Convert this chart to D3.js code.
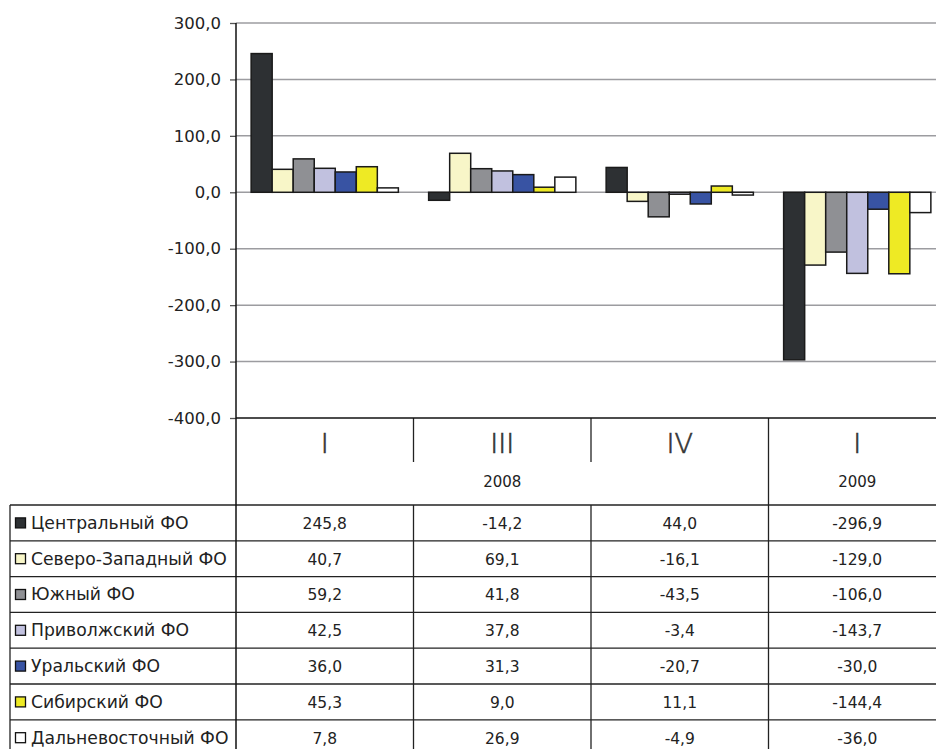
<!DOCTYPE html>
<html>
<head>
<meta charset="utf-8">
<script src="https://cdn.jsdelivr.net/npm/d3@7"></script>
<style>
  body { margin: 0; background: #fff; }
  svg { display: block; font-family: "DejaVu Sans", sans-serif; }
</style>
</head>
<body>
<div class="chart"></div>
<script>
// quarters along the x axis, years spanning them
var quarters = ["I", "III", "IV", "I"];
var years = ["2008", "2009"];
var yearSpans = [3, 1];

var regions = ["Центральный ФО", "Северо-Западный ФО", "Южный ФО", "Приволжский ФО",
               "Уральский ФО", "Сибирский ФО", "Дальневосточный ФО"];
var colors = ["#2d3033", "#f8f6c8", "#8f9094", "#c1c1df", "#3853a3", "#eeea24", "#ffffff"];

// one array per region, values by quarter
var central    = [245.8, -14.2, 44.0, -296.9];
var northwest  = [40.7, 69.1, -16.1, -129.0];
var south      = [59.2, 41.8, -43.5, -106.0];
var volga      = [42.5, 37.8, -3.4, -143.7];
var ural       = [36.0, 31.3, -20.7, -30.0];
var siberia    = [45.3, 9.0, 11.1, -144.4];
var fareast    = [7.8, 26.9, -4.9, -36.0];
var series = [central, northwest, south, volga, ural, siberia, fareast];

var yTicks = [-400, -300, -200, -100, 0, 100, 200, 300];

var w = 936, h = 749;
var plotLeft = 236, colW = 177.5;
var plotTop = 23, plotBottom = 418;
var rowH = 35.8, tableTop = 505;

var fmt = function(v) { return (v < 0 ? "-" : "") + Math.abs(v).toFixed(1).replace(".", ","); };

var svg = d3.select(".chart").append("svg")
    .attr("width", w).attr("height", h);

var x0 = d3.scaleBand()
    .domain(d3.range(quarters.length))
    .range([plotLeft, plotLeft + colW * quarters.length]);
var x1 = d3.scaleBand()
    .domain(d3.range(regions.length))
    .range([0, x0.bandwidth()])
    .paddingOuter(0.72);
var y = d3.scaleLinear().domain([-400, 300]).range([plotBottom, plotTop]);

// gridlines
svg.append("g").selectAll("line")
    .data(yTicks.filter(d => d > -400))
    .enter().append("line")
    .attr("x1", plotLeft).attr("x2", w)
    .attr("y1", d => y(d)).attr("y2", d => y(d))
    .attr("stroke", "#9c9ca0").attr("stroke-width", 1.5);

// y axis
var yAxis = d3.axisLeft(y).tickValues(yTicks).tickSize(6).tickPadding(9).tickFormat(fmt);
var ag = svg.append("g").attr("transform", "translate(" + plotLeft + ",0)").call(yAxis);
ag.select(".domain").remove();
ag.selectAll(".tick line").attr("stroke", "#555").attr("stroke-width", 1.3);
ag.selectAll(".tick text").style("font-size", "16.5px").style("font-family", "DejaVu Sans").attr("fill", "#222");

// bars
var groups = svg.append("g").selectAll("g")
    .data(quarters)
    .enter().append("g")
    .attr("transform", (d, i) => "translate(" + x0(i) + ",0)");
groups.selectAll("rect")
    .data((d, qi) => series.map((s, ri) => ({ ri: ri, v: s[qi] })))
    .enter().append("rect")
    .attr("x", d => x1(d.ri))
    .attr("width", x1.bandwidth())
    .attr("y", d => y(Math.max(0, d.v)))
    .attr("height", d => Math.abs(y(d.v) - y(0)))
    .attr("fill", d => colors[d.ri])
    .attr("stroke", "#1a1a1a").attr("stroke-width", 1.5);

// table header: quarters and years
svg.append("g").selectAll("text")
    .data(quarters)
    .enter().append("text")
    .attr("x", (d, i) => x0(i) + colW / 2)
    .attr("y", 453)
    .attr("text-anchor", "middle")
    .style("font-size", "27px").style("font-weight", 200)
    .attr("fill", "#333").attr("stroke", "#333").attr("stroke-width", 0.6)
    .text(d => d);

var yearStart = 0;
years.forEach(function(yr, i) {
    var x = x0(yearStart) + colW * yearSpans[i] / 2;
    svg.append("text")
        .attr("x", x).attr("y", 487)
        .attr("text-anchor", "middle")
        .style("font-size", "15px").attr("fill", "#222")
        .text(yr);
    yearStart += yearSpans[i];
});

// header separators
[1, 2].forEach(function(i) {
    svg.append("line").attr("x1", x0(i)).attr("x2", x0(i))
        .attr("y1", plotBottom).attr("y2", 462)
        .attr("stroke", "#222").attr("stroke-width", 1.3);
});
svg.append("line").attr("x1", x0(3)).attr("x2", x0(3))
    .attr("y1", plotBottom).attr("y2", h)
    .attr("stroke", "#222").attr("stroke-width", 1.3);

// table rows
var rows = svg.append("g").selectAll("g")
    .data(regions)
    .enter().append("g")
    .attr("transform", (d, i) => "translate(0," + (tableTop + i * rowH) + ")");
rows.append("line")
    .attr("x1", 10).attr("x2", w).attr("y1", 0).attr("y2", 0)
    .attr("stroke", "#222").attr("stroke-width", 1.3);
rows.append("rect")
    .attr("x", 15.5).attr("y", rowH / 2 - 5).attr("width", 10).attr("height", 10)
    .attr("fill", (d, i) => colors[i])
    .attr("stroke", "#111").attr("stroke-width", 1.3);
rows.append("text")
    .attr("x", 31).attr("y", rowH / 2 + 6)
    .style("font-size", "17.2px").attr("fill", "#222")
    .text(d => d);
rows.selectAll(".val")
    .data((d, i) => series[i])
    .enter().append("text")
    .attr("class", "val")
    .attr("x", (d, qi) => x0(qi) + colW / 2)
    .attr("y", rowH / 2 + 6)
    .attr("text-anchor", "middle")
    .style("font-size", "15.5px").attr("fill", "#222")
    .text(fmt);
svg.append("line")
    .attr("x1", 10).attr("x2", w)
    .attr("y1", tableTop + regions.length * rowH).attr("y2", tableTop + regions.length * rowH)
    .attr("stroke", "#222").attr("stroke-width", 1.3);

// table verticals
svg.append("line").attr("x1", 10).attr("x2", 10)
    .attr("y1", tableTop).attr("y2", h)
    .attr("stroke", "#222").attr("stroke-width", 1.3);
[1, 2].forEach(function(i) {
    svg.append("line").attr("x1", x0(i)).attr("x2", x0(i))
        .attr("y1", tableTop).attr("y2", h)
        .attr("stroke", "#222").attr("stroke-width", 1.3);
});

// plot bottom border / table top
svg.append("line")
    .attr("x1", plotLeft).attr("x2", w).attr("y1", plotBottom).attr("y2", plotBottom)
    .attr("stroke", "#111").attr("stroke-width", 1.5);
// vertical axis line running down through the table
svg.append("line")
    .attr("x1", plotLeft).attr("x2", plotLeft).attr("y1", plotTop).attr("y2", h)
    .attr("stroke", "#111").attr("stroke-width", 1.5);
</script>
</body>
</html>
